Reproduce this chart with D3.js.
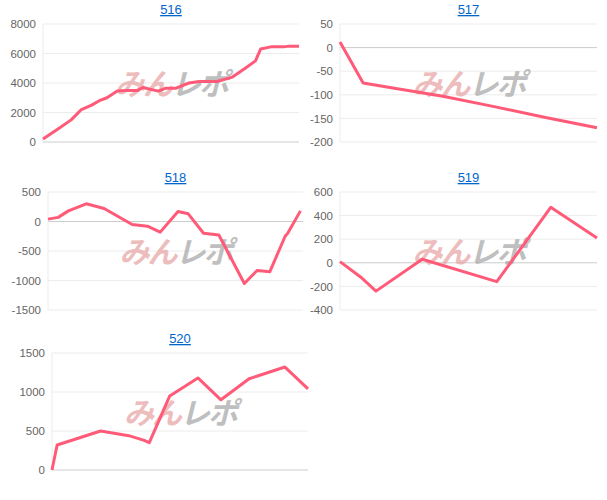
<!DOCTYPE html><html><head><meta charset="utf-8"><script src="https://cdn.jsdelivr.net/npm/d3@7"></script>
<style>body{margin:0;background:#fff;font-family:"Liberation Sans",Arial,sans-serif}</style></head><body><svg id="c" width="607" height="500"></svg>
<script>
const titles=["516","517","518","519","520"];
const x516=[0,6,11,15,19,22,25,29,33,37,39,45,48,52,57,61,68,74,79,83,85,89,94,96,100];
const y516=[200,900,1500,2200,2500,2800,3000,3450,3500,3500,3700,3450,3650,3650,4000,4100,4100,4400,5000,5500,6300,6450,6450,6500,6500];
const x517=[0,9,20,40,60,80,100];
const y517=[12,-75,-85,-103,-125,-148,-170];
const x518=[0,4,8,15,22,33,39,44,51,55,61,67,77,82,87,93,94,99];
const y518=[40,70,180,300,220,-50,-80,-180,170,130,-200,-230,-1050,-830,-850,-250,-200,180];
const x519=[0,8,14,32,61,82,100];
const y519=[10,-120,-240,30,-160,470,210];
const x520=[0,2,19,30,36,38,46,57,66,77,91,100];
const y520=[0,320,500,440,380,350,950,1180,900,1170,1320,1040];
const ticks=[[0,2000,4000,6000,8000],[-200,-150,-100,-50,0,50],[-1500,-1000,-500,0,500],[-400,-200,0,200,400,600],[0,500,1000,1500]];
const xs=[x516,x517,x518,x519,x520], ys=[y516,y517,y518,y519,y520];
const boxes=[[43,299,24,142],[340,597,24,142],[48,303,192,310],[340,597,192,310],[52,308,353,470]];
const svg=d3.select("#c");
boxes.forEach((b,i)=>{
  const [x0,x1,y0,y1]=b, t=ticks[i];
  const x=d3.scaleLinear().domain([0,100]).range([x0,x1]);
  const y=d3.scaleLinear().domain([t[0],t[t.length-1]]).range([y1,y0]);
  const g=svg.append("g");
  t.forEach(v=>g.append("line").attr("x1",x0).attr("x2",x1).attr("y1",y(v)).attr("y2",y(v)).attr("stroke",v===0?"#ccc":"#ececec"));
  g.append("line").attr("x1",x0).attr("x2",x0).attr("y1",y0).attr("y2",y1).attr("stroke","#ececec");
  const ax=g.append("g").attr("transform",`translate(${x0},0)`).call(d3.axisLeft(y).tickValues(t).tickSize(0).tickPadding(7).tickFormat(v=>String(v)));
  ax.select(".domain").remove();
  ax.selectAll("text").attr("fill","#666").attr("font-size",11.5).attr("font-family","Liberation Sans");
  const cx=(x0+x1)/2;
  const wm=g.append("text").attr("x",cx).attr("y",(y0+y1)/2+12).attr("text-anchor","middle").attr("font-size",30).attr("font-weight","bold").attr("font-style","italic").attr("font-family","Noto Sans CJK JP").attr("letter-spacing",-2);
  wm.append("tspan").attr("fill","#e8a8a8").attr("opacity",0.75).text("みん");
  wm.append("tspan").attr("fill","#aaa").attr("opacity",0.75).text("レポ");
  g.append("text").attr("x",cx).attr("y",y0-10).attr("text-anchor","middle").attr("font-size",13).attr("fill","#0066cc").attr("text-decoration","underline").text(titles[i]);
  const d=xs[i].map((v,j)=>[v,ys[i][j]]);
  g.append("path").datum(d).attr("fill","none").attr("stroke","#ff5a78").attr("stroke-width",3).attr("stroke-linejoin","round")
   .attr("d",d3.line().x(p=>x(p[0])).y(p=>y(p[1])));
});
</script></body></html>
